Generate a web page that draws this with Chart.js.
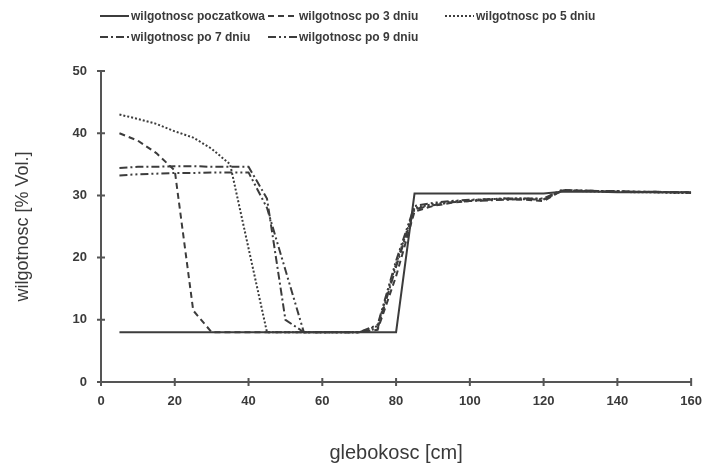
<!DOCTYPE html>
<html>
<head>
<meta charset="utf-8">
<script src="https://cdn.jsdelivr.net/npm/chart.js@4.4.1/dist/chart.umd.min.js"></script>
<style>
  body { margin: 0; background: #fff; }
  #wrap { position: relative; width: 714px; height: 469px; }
  #legend { position: absolute; left: 0; top: 0; font: bold 12px "Liberation Sans", Arial, sans-serif; color: #3a3a3a; }
  .item { position: absolute; height: 16px; display: flex; align-items: center; white-space: nowrap; }
  .item svg { margin-right: 2px; }
</style>
</head>
<body>
<div id="wrap">
  <canvas id="chart" width="714" height="469"></canvas>
  <div id="legend"></div>
</div>
<script>
// depth of measurement [cm]
const depth = [5, 10, 15, 20, 25, 30, 35, 40, 45, 50, 55, 60, 65, 70, 75, 80,
               85, 90, 95, 100, 105, 110, 115, 120, 125, 130, 135, 140, 145, 150, 155, 160];

// soil moisture [% Vol.]
const initial = [8, 8, 8, 8, 8, 8, 8, 8, 8, 8, 8, 8, 8, 8, 8, 8,
                 30.3, 30.3, 30.3, 30.3, 30.3, 30.3, 30.3, 30.3, 30.6, 30.6, 30.6, 30.5, 30.5, 30.5, 30.5, 30.5];
const day3 = [40, 38.8, 36.8, 34, 11.5, 8, 8, 8, 8, 8, 8, 8, 8, 8, 8.4, 17,
              27.4, 28.3, 28.8, 29.1, 29.3, 29.4, 29.3, 29.1, 30.8, 30.7, 30.7, 30.6, 30.6, 30.6, 30.5, 30.5];
const day5 = [43, 42.3, 41.5, 40.3, 39.3, 37.5, 35, 21.5, 8, 8, 8, 8, 8, 8, 9, 19,
              28, 28.6, 29, 29.2, 29.4, 29.5, 29.5, 29.4, 30.7, 30.7, 30.6, 30.6, 30.5, 30.5, 30.4, 30.4];
const day7 = [34.4, 34.6, 34.6, 34.7, 34.7, 34.6, 34.6, 34.6, 29.5, 10, 8, 8, 8, 8, 8.6, 18.5,
              27.8, 28.4, 28.9, 29.1, 29.2, 29.3, 29.4, 29.3, 30.8, 30.8, 30.7, 30.7, 30.6, 30.5, 30.5, 30.4];
const day9 = [33.2, 33.4, 33.5, 33.6, 33.6, 33.7, 33.7, 33.7, 28, 18, 8, 8, 8, 8, 9.2, 19.5,
              28.3, 28.8, 29.1, 29.3, 29.4, 29.5, 29.5, 29.5, 30.9, 30.8, 30.7, 30.7, 30.6, 30.6, 30.5, 30.5];

const seriesNames = ['wilgotnosc poczatkowa', 'wilgotnosc po 3 dniu', 'wilgotnosc po 5 dniu',
                     'wilgotnosc po 7 dniu', 'wilgotnosc po 9 dniu'];
const seriesValues = [initial, day3, day5, day7, day9];
const dashes = [[], [6, 4], [2, 2], [8, 3, 2, 3], [8, 3, 2, 3, 2, 3]];

const lineColor = '#3c3c3c';
const axisColor = '#555';
const fontFamily = '"Liberation Sans", Arial, sans-serif';
const tickFont = { family: fontFamily, size: 13, weight: 'bold' };

const datasets = seriesValues.map((vals, i) => ({
  label: seriesNames[i],
  data: depth.map((d, k) => ({ x: d, y: vals[k] })),
  borderColor: lineColor,
  borderWidth: 2,
  borderDash: dashes[i],
  pointRadius: 0,
  fill: false,
  tension: 0
}));

// small tick marks crossing both axis lines
const crossTicks = {
  id: 'crossTicks',
  afterDraw(chart) {
    const { ctx, scales: { x, y } } = chart;
    ctx.save();
    ctx.strokeStyle = axisColor;
    ctx.lineWidth = 2;
    ctx.beginPath();
    x.ticks.forEach(t => {
      const px = x.getPixelForValue(t.value);
      ctx.moveTo(px, y.bottom - 4);
      ctx.lineTo(px, y.bottom + 4);
    });
    y.ticks.forEach(t => {
      const py = y.getPixelForValue(t.value);
      ctx.moveTo(x.left - 4, py);
      ctx.lineTo(x.left + 4, py);
    });
    ctx.stroke();
    ctx.restore();
  }
};

new Chart(document.getElementById('chart'), {
  type: 'line',
  data: { datasets },
  plugins: [crossTicks],
  options: {
    responsive: false,
    animation: false,
    layout: { padding: { left: 8, right: 13, top: 71, bottom: 4 } },
    plugins: {
      legend: { display: false },
      tooltip: { enabled: false }
    },
    scales: {
      x: {
        type: 'linear',
        min: 0,
        max: 160,
        ticks: { stepSize: 20, padding: 12, color: '#3a3a3a', font: tickFont },
        grid: { drawOnChartArea: false, drawTicks: false },
        border: { color: axisColor, width: 2 },
        title: { display: true, text: 'glebokosc [cm]', color: '#3a3a3a',
                 font: { family: fontFamily, size: 20 }, padding: { top: 0, bottom: 0 } },
        afterFit: s => { s.height = 83; }
      },
      y: {
        min: 0,
        max: 50,
        ticks: { stepSize: 10, padding: 14, color: '#3a3a3a', font: tickFont },
        grid: { drawOnChartArea: false, drawTicks: false },
        border: { color: axisColor, width: 2 },
        title: { display: true, text: 'wilgotnosc [% Vol.]', color: '#3a3a3a',
                 font: { family: fontFamily, size: 18 }, padding: { top: 4, bottom: 0 } },
        afterFit: s => { s.width = 93; }
      }
    }
  }
});

// legend in two rows, three columns
const legendCols = [100, 268, 445];
const legendRows = [16, 37];
const legendEl = document.getElementById('legend');
datasets.forEach((ds, i) => {
  const item = document.createElement('div');
  item.className = 'item';
  item.style.left = legendCols[i % 3] + 'px';
  item.style.top = (legendRows[Math.floor(i / 3)] - 8) + 'px';
  const dash = ds.borderDash.length ? ds.borderDash.join(' ') : 'none';
  item.innerHTML = '<svg width="29" height="4"><line x1="0" y1="2" x2="29" y2="2" stroke="' + lineColor +
    '" stroke-width="2" stroke-dasharray="' + dash + '"/></svg><span>' + ds.label + '</span>';
  legendEl.appendChild(item);
});
</script>
</body>
</html>
